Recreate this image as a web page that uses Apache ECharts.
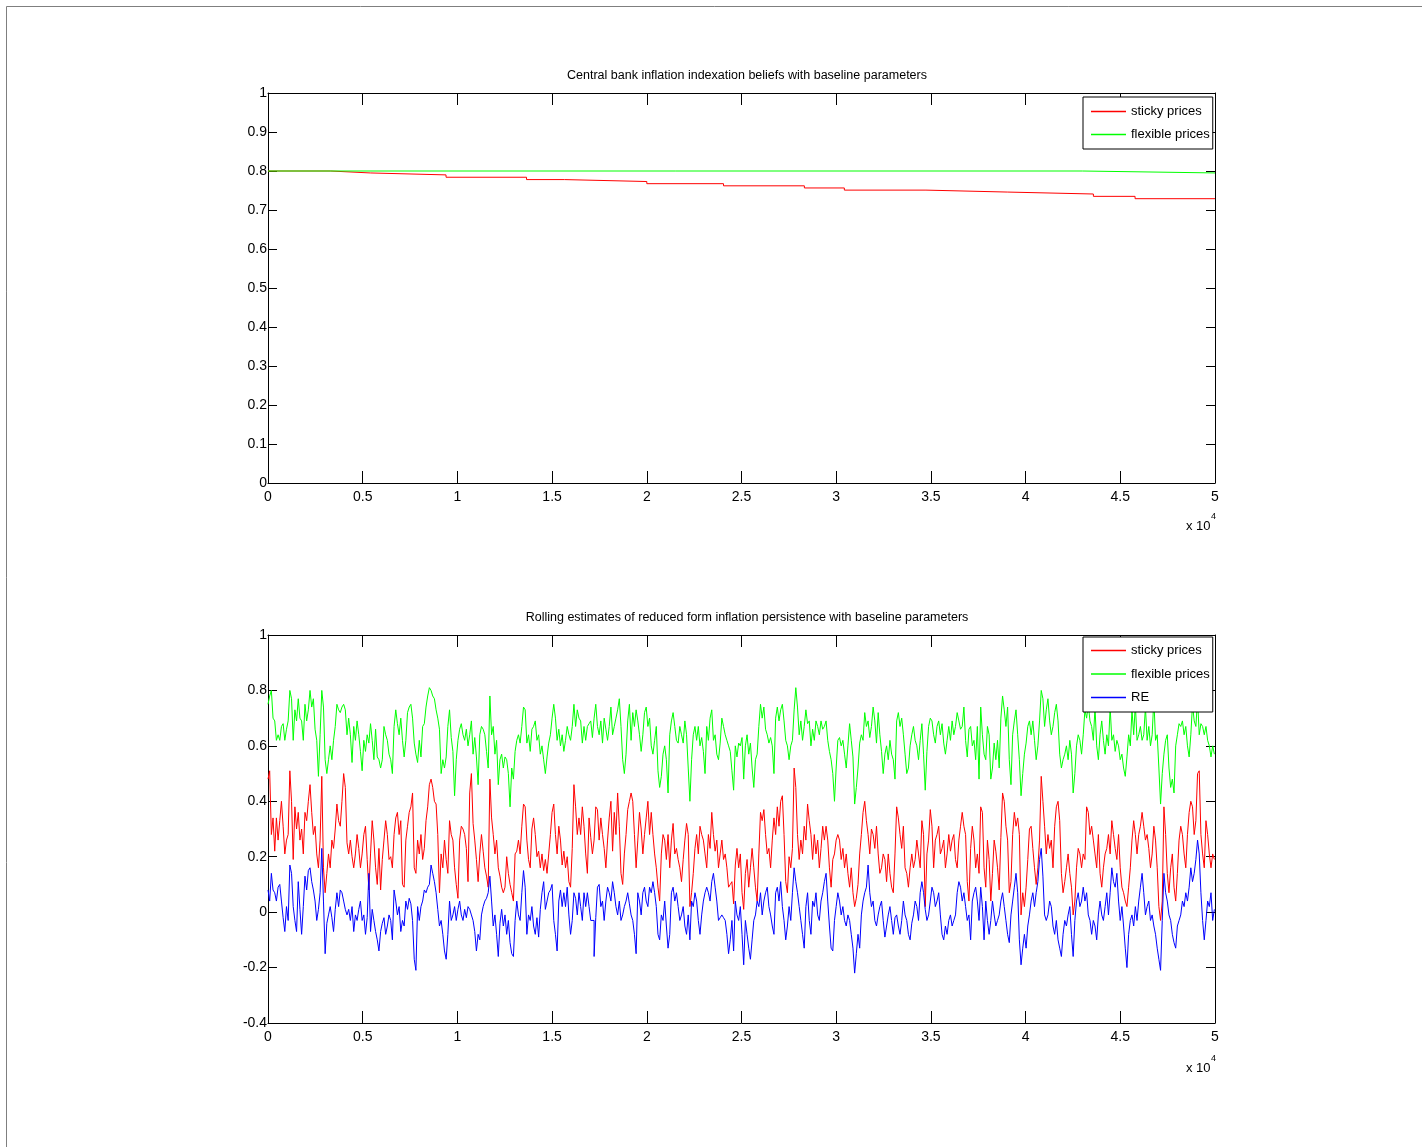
<!DOCTYPE html>
<html>
<head>
<meta charset="utf-8">
<script src="https://cdn.jsdelivr.net/npm/echarts@6/dist/echarts.min.js"></script>
<style>
html,body{margin:0;padding:0;background:#fff;}
#chart{width:1422px;height:1147px;}
</style>
</head>
<body>
<div id="chart"></div>
<script>
// ---------- Top panel: central bank indexation beliefs (step series) ----------
const beliefStickyX = [0, 3300, 5400, 9400, 13650, 15650, 20000, 24050, 28320, 30430, 34740, 39030, 43580, 45780, 50000];
const beliefStickyY = [0.800, 0.795, 0.790, 0.784, 0.778, 0.773, 0.7675, 0.762, 0.7565, 0.751, 0.746, 0.741, 0.735, 0.729, 0.729];
const beliefFlexX = [0, 43000, 50000];
const beliefFlexY = [0.800, 0.795, 0.795];

// ---------- Bottom panel: rolling persistence estimates (read every ~89 periods) ----------
const SAMPLE_STEP = 88.75;
const persistSticky = [
  // 0 - 11.7k
  0.48,0.51,0.28,0.34,0.22,0.34,0.26,0.33,0.40,0.31, 0.21,0.26,0.28,0.51,0.40,0.19,0.38,0.30,0.36,0.26,
  0.30,0.21,0.36,0.33,0.40,0.46,0.36,0.28,0.31,0.21, 0.16,0.26,0.49,0.16,0.07,0.14,0.21,0.16,0.26,0.23,
  0.30,0.39,0.33,0.31,0.40,0.50,0.45,0.25,0.21,0.26, 0.20,0.16,0.21,0.28,0.23,0.16,0.21,0.28,0.31,0.19,
  0.08,0.21,0.33,0.26,0.16,0.10,0.23,0.08,0.19,0.26, 0.33,0.28,0.19,0.20,0.16,0.28,0.34,0.36,0.28,0.33,
  0.10,0.09,0.26,0.31,0.36,0.38,0.43,0.16,0.14,0.26, 0.21,0.28,0.19,0.23,0.33,0.38,0.46,0.48,0.45,0.40,
  0.39,0.28,0.07,0.21,0.16,0.26,0.19,0.14,0.33,0.28, 0.26,0.16,0.10,0.05,0.26,0.31,0.30,0.28,0.23,0.11,
  0.43,0.50,0.32,0.26,0.19,0.11,0.21,0.28,0.22,0.16, 0.13,0.09,0.48,
  // 11.8k - 24.6k
  0.34,0.28,0.21,0.26,0.16,0.13,0.09,0.07,0.09,0.20, 0.14,0.10,0.07,0.04,0.21,0.22,0.26,0.21,0.31,0.39,
  0.38,0.26,0.19,0.16,0.30,0.34,0.28,0.20,0.22,0.16, 0.21,0.15,0.19,0.14,0.21,0.28,0.36,0.39,0.28,0.21,
  0.31,0.26,0.17,0.22,0.16,0.20,0.11,0.09,0.23,0.46, 0.38,0.28,0.34,0.28,0.38,0.31,0.21,0.14,0.34,0.27,
  0.21,0.26,0.38,0.37,0.26,0.34,0.28,0.23,0.16,0.26, 0.34,0.40,0.22,0.36,0.28,0.43,0.31,0.14,0.10,0.21,
  0.28,0.37,0.40,0.43,0.40,0.28,0.16,0.26,0.36,0.30, 0.21,0.28,0.34,0.40,0.28,0.36,0.28,0.21,0.16,0.09,
  0.04,0.21,0.28,0.26,0.19,0.28,0.16,0.26,0.32,0.21, 0.23,0.19,0.16,0.11,0.19,0.26,0.32,0.28,0.02,0.07,
  0.14,0.23,0.28,0.21,0.31,0.28,0.26,0.21,0.16,0.28, 0.23,0.36,0.28,0.22,0.26,0.16,0.21,0.26,0.19,0.21,
  0.16,0.09,0.10,0.11,0.03,
  // 24.7k - 37.6k
  0.17,0.23,0.16,0.21,0.07,0.01,0.14,0.19,0.09,0.16, 0.23,0.16,0.09,0.04,0.21,0.36,0.33,0.37,0.28,0.21,
  0.23,0.16,0.26,0.34,0.28,0.38,0.31,0.40,0.42,0.28, 0.11,0.07,0.20,0.16,0.23,0.52,0.45,0.28,0.19,0.26,
  0.21,0.31,0.26,0.39,0.33,0.28,0.19,0.28,0.21,0.26, 0.16,0.23,0.31,0.26,0.31,0.26,0.16,0.09,0.19,0.21,
  0.26,0.28,0.26,0.19,0.23,0.16,0.21,0.14,0.09,0.16, 0.07,0.02,0.05,0.10,0.21,0.28,0.36,0.40,0.33,0.28,
  0.21,0.30,0.28,0.23,0.31,0.21,0.14,0.16,0.21,0.19, 0.11,0.21,0.14,0.09,0.07,0.21,0.38,0.34,0.28,0.23,
  0.31,0.16,0.14,0.09,0.16,0.21,0.16,0.19,0.26,0.21, 0.16,0.33,0.28,0.02,0.21,0.26,0.37,0.31,0.16,0.26,
  0.28,0.31,0.21,0.23,0.26,0.16,0.21,0.28,0.22,0.26, 0.28,0.19,0.16,0.26,0.31,0.36,0.31,0.28,0.11,0.04,
  0.23,0.31,0.26,0.16,0.21,0.14,0.38,
  // 37.7k - 50k
  0.36,0.16,0.09,0.26,0.19,0.04,0.14,0.26,0.22,0.16, 0.08,0.27,0.43,0.40,0.31,0.26,0.07,0.11,0.28,0.36,
  0.31,0.34,0.28,-0.01,0.07,0.02,0.09,0.19,0.30,0.31, 0.23,0.16,0.10,0.16,0.26,0.49,0.40,0.31,0.21,0.28,
  0.23,0.26,0.16,0.31,0.38,0.40,0.33,0.14,0.07,0.11, 0.16,0.21,0.14,0.09,-0.01,0.04,0.16,0.23,0.21,0.16,
  0.21,0.19,0.38,0.36,0.28,0.31,0.26,0.21,0.16,0.28, 0.14,0.09,0.16,0.21,0.23,0.28,0.21,0.33,0.28,0.23,
  0.19,0.28,0.16,0.09,0.07,0.04,0.02,0.09,0.16,0.26, 0.33,0.28,0.21,0.28,0.31,0.36,0.31,0.26,0.28,0.23,
  0.16,0.21,0.31,0.26,0.16,0.02,-0.03,0.04,0.38,0.28, 0.14,0.07,0.16,0.21,0.09,0.04,0.14,0.26,0.31,0.28,
  0.21,0.16,0.28,0.36,0.40,0.38,0.28,0.33,0.50,0.51, 0.28,0.21,0.16,0.33,0.28,0.21,0.16,0.21,0.19
];
const persistFlexible = [
  0.75,0.78,0.80,0.70,0.69,0.62,0.64,0.62,0.67,0.68, 0.62,0.66,0.69,0.80,0.77,0.62,0.73,0.69,0.77,0.70,
  0.69,0.62,0.75,0.69,0.73,0.80,0.74,0.77,0.66,0.62, 0.49,0.64,0.80,0.74,0.55,0.50,0.55,0.60,0.55,0.62,
  0.67,0.75,0.73,0.72,0.74,0.75,0.73,0.64,0.70,0.64, 0.54,0.67,0.62,0.69,0.64,0.58,0.51,0.62,0.58,0.64,
  0.61,0.68,0.62,0.55,0.66,0.56,0.55,0.52,0.55,0.67, 0.64,0.62,0.57,0.55,0.50,0.67,0.73,0.68,0.64,0.70,
  0.62,0.56,0.62,0.72,0.74,0.75,0.70,0.61,0.57,0.54, 0.62,0.56,0.67,0.68,0.74,0.78,0.81,0.80,0.78,0.77,
  0.73,0.70,0.66,0.50,0.55,0.52,0.56,0.67,0.73,0.63, 0.58,0.42,0.55,0.62,0.66,0.68,0.64,0.62,0.66,0.60,
  0.64,0.69,0.57,0.63,0.56,0.46,0.64,0.67,0.66,0.64, 0.58,0.52,0.78,

  0.64,0.67,0.57,0.62,0.46,0.55,0.57,0.52,0.56,0.55, 0.50,0.38,0.52,0.48,0.58,0.62,0.64,0.61,0.67,0.74,
  0.73,0.61,0.64,0.58,0.66,0.67,0.69,0.62,0.64,0.57, 0.60,0.55,0.50,0.56,0.61,0.64,0.70,0.75,0.70,0.62,
  0.66,0.60,0.64,0.58,0.62,0.67,0.64,0.62,0.67,0.75, 0.67,0.73,0.70,0.69,0.61,0.67,0.62,0.67,0.68,0.69,
  0.63,0.70,0.75,0.67,0.64,0.69,0.61,0.70,0.66,0.62, 0.67,0.74,0.64,0.67,0.70,0.73,0.77,0.67,0.55,0.50,
  0.57,0.69,0.75,0.62,0.72,0.67,0.73,0.69,0.64,0.58, 0.64,0.72,0.74,0.67,0.70,0.60,0.57,0.62,0.67,0.51,
  0.45,0.49,0.57,0.60,0.55,0.43,0.64,0.69,0.72,0.67, 0.62,0.61,0.67,0.64,0.61,0.69,0.64,0.52,0.40,0.55,
  0.64,0.67,0.62,0.67,0.60,0.63,0.58,0.50,0.67,0.62, 0.70,0.73,0.62,0.64,0.57,0.55,0.61,0.70,0.67,0.64,
  0.62,0.60,0.58,0.51,0.44,

  0.60,0.56,0.61,0.60,0.63,0.48,0.60,0.64,0.57,0.61, 0.52,0.45,0.55,0.57,0.67,0.75,0.70,0.74,0.66,0.64,
  0.61,0.63,0.60,0.50,0.70,0.74,0.69,0.73,0.75,0.69, 0.62,0.60,0.55,0.60,0.62,0.73,0.81,0.74,0.64,0.69,
  0.62,0.67,0.73,0.68,0.69,0.60,0.66,0.62,0.69,0.67, 0.64,0.69,0.66,0.67,0.69,0.62,0.58,0.55,0.50,0.40,
  0.52,0.62,0.63,0.60,0.62,0.57,0.52,0.60,0.68,0.62, 0.56,0.39,0.45,0.52,0.61,0.64,0.62,0.72,0.67,0.69,
  0.63,0.67,0.74,0.69,0.61,0.72,0.64,0.58,0.50,0.57, 0.60,0.55,0.62,0.57,0.55,0.48,0.69,0.72,0.67,0.70,
  0.64,0.57,0.50,0.52,0.60,0.64,0.67,0.62,0.60,0.55, 0.62,0.68,0.57,0.44,0.58,0.67,0.70,0.69,0.64,0.61,
  0.67,0.69,0.64,0.68,0.61,0.57,0.62,0.67,0.62,0.69, 0.64,0.67,0.72,0.69,0.66,0.67,0.74,0.62,0.56,0.66,
  0.67,0.60,0.62,0.55,0.67,0.48,0.74,

  0.64,0.57,0.55,0.67,0.64,0.48,0.52,0.61,0.55,0.62, 0.52,0.70,0.78,0.73,0.67,0.74,0.55,0.46,0.64,0.69,
  0.73,0.64,0.55,0.42,0.50,0.57,0.61,0.67,0.69,0.64, 0.69,0.62,0.55,0.60,0.69,0.80,0.77,0.67,0.73,0.77,
  0.69,0.64,0.67,0.72,0.75,0.69,0.57,0.52,0.55,0.57, 0.60,0.55,0.62,0.57,0.43,0.50,0.60,0.64,0.62,0.57,
  0.64,0.73,0.70,0.75,0.69,0.67,0.62,0.74,0.60,0.55, 0.64,0.69,0.62,0.57,0.64,0.60,0.74,0.62,0.64,0.58,
  0.62,0.60,0.55,0.57,0.52,0.49,0.56,0.64,0.60,0.73, 0.64,0.75,0.62,0.64,0.67,0.62,0.64,0.74,0.62,0.67,
  0.60,0.64,0.77,0.62,0.64,0.52,0.39,0.50,0.57,0.62, 0.64,0.52,0.45,0.48,0.43,0.60,0.64,0.68,0.67,0.69,
  0.64,0.67,0.60,0.56,0.64,0.75,0.69,0.67,0.77,0.64, 0.68,0.67,0.64,0.67,0.62,0.60,0.56,0.60,0.57
];
const persistRE = [
  0.08,0.04,0.14,0.08,0.07,0.04,0.09,0.10,0.04,-0.02, -0.07,0.02,-0.03,0.17,0.14,0.02,-0.03,-0.07,0.11,0.01,
  -0.08,0.02,0.13,0.08,0.15,0.16,0.11,0.08,0.04,-0.03, 0.01,0.07,0.23,0.04,-0.15,-0.04,-0.01,0.02,-0.02,-0.07,
  0.01,0.07,0.02,0.08,0.07,0.04,0.01,-0.01,0.01,-0.03, 0.02,-0.07,-0.01,-0.03,0.01,0.04,-0.03,-0.01,-0.08,-0.02,
  0.14,-0.07,0.01,-0.03,-0.07,-0.10,-0.14,-0.07,-0.04,-0.02, -0.08,-0.05,-0.01,-0.03,-0.10,0.08,0.04,-0.01,0.02,-0.07,
  -0.03,-0.05,0.04,0.01,0.05,0.03,-0.03,-0.17,-0.21,0.02, -0.03,0.02,0.04,0.08,0.07,0.09,0.10,0.17,0.14,0.11,
  0.07,0.01,-0.05,-0.03,-0.08,-0.14,-0.17,-0.08,0.04,-0.03, -0.01,0.02,-0.03,0.01,0.04,-0.01,-0.03,0.01,-0.02,0.02,
  0.01,-0.01,-0.03,-0.07,-0.14,-0.08,-0.10,-0.01,0.02,0.04, 0.05,0.07,0.13,

  0.04,-0.05,-0.01,-0.08,-0.16,-0.04,0.01,-0.05,-0.01,-0.08, -0.03,-0.11,-0.15,-0.16,-0.03,0.04,-0.01,-0.03,0.07,0.15,
  0.09,-0.08,-0.01,-0.03,0.02,-0.05,-0.08,-0.02,-0.09,0.01, 0.07,0.11,0.01,0.04,0.07,0.08,0.10,-0.03,-0.08,-0.14,
  0.04,0.08,0.02,0.07,0.02,0.09,-0.01,-0.08,-0.03,0.07, 0.05,-0.01,0.07,0.02,-0.03,0.07,0.02,0.07,0.02,-0.03,
  -0.03,-0.16,-0.02,0.09,0.10,0.02,0.04,-0.03,0.04,0.09, 0.07,0.04,0.11,0.07,0.02,-0.01,0.04,-0.03,-0.01,0.02,
  0.04,0.07,0.03,-0.01,-0.03,-0.08,-0.15,0.07,0.04,-0.01, 0.07,0.09,0.04,0.02,0.09,0.07,0.11,0.07,0.02,-0.08,
  -0.10,-0.01,-0.03,0.04,-0.05,-0.13,-0.08,0.07,0.09,0.04, 0.07,0.02,-0.03,-0.01,0.02,-0.05,-0.08,-0.01,-0.10,0.04,
  0.02,0.07,0.04,-0.03,-0.08,-0.01,0.04,0.07,0.09,0.07, 0.04,0.11,0.14,0.09,0.04,-0.03,-0.02,-0.01,-0.02,-0.03,
  -0.08,-0.15,-0.10,-0.03,-0.14,

  0.04,-0.01,-0.03,0.02,-0.08,-0.19,-0.03,-0.08,-0.13,-0.17, -0.10,-0.03,-0.01,0.04,0.02,0.07,-0.01,0.04,0.07,0.09,
  0.02,-0.01,-0.05,-0.08,0.07,0.09,0.04,0.11,0.02,-0.03, -0.10,-0.05,0.02,-0.03,0.07,0.16,0.11,0.07,0.02,-0.03,
  -0.08,-0.13,0.02,0.07,-0.03,-0.08,0.04,0.02,0.07,-0.01, -0.03,0.04,0.07,0.11,0.14,0.04,-0.05,-0.13,-0.14,-0.03,
  0.02,0.07,0.04,-0.01,0.02,-0.03,-0.05,-0.01,-0.03,-0.08, -0.13,-0.22,-0.15,-0.08,-0.13,-0.01,0.04,0.07,0.09,0.17,
  0.07,0.02,0.04,-0.03,-0.05,-0.01,0.02,0.04,-0.03,-0.09, -0.05,-0.01,0.02,-0.03,-0.08,-0.02,-0.01,-0.05,-0.08,-0.03,
  0.04,-0.01,-0.03,-0.08,-0.10,-0.04,-0.01,0.04,0.02,-0.03, 0.07,0.11,0.07,0.01,-0.03,-0.01,0.04,0.09,0.07,0.02,
  0.04,0.07,-0.01,-0.08,-0.10,-0.05,-0.08,-0.03,-0.01,-0.05, -0.03,-0.01,0.07,0.11,0.09,0.04,0.07,0.02,-0.03,-0.01,
  -0.10,0.04,0.07,0.09,0.04,-0.03,0.09,

  0.02,-0.10,0.04,-0.03,-0.08,-0.03,0.04,-0.01,-0.05,-0.03, -0.01,0.04,0.07,0.02,-0.03,-0.08,-0.11,-0.01,0.04,0.09,
  0.14,0.07,-0.10,-0.19,-0.13,-0.08,-0.13,-0.05,-0.01,0.04, 0.07,0.02,0.07,0.11,0.19,0.23,0.13,-0.01,-0.03,-0.01,
  0.04,0.02,-0.05,-0.08,-0.03,-0.10,-0.13,-0.16,-0.08,-0.03, -0.05,-0.01,0.02,-0.08,-0.16,-0.03,0.04,0.07,0.02,0.04,
  0.09,0.04,0.07,-0.01,-0.03,-0.08,-0.03,-0.05,-0.10,-0.01, 0.04,-0.01,-0.03,0.02,0.07,-0.01,0.07,0.16,0.11,0.09,
  0.14,0.04,-0.03,0.02,-0.05,-0.13,-0.20,-0.08,-0.03,-0.01, -0.05,0.02,-0.03,0.04,0.09,0.14,0.07,-0.01,0.02,0.04,
  -0.03,-0.01,-0.05,-0.08,-0.13,-0.17,-0.21,-0.03,0.14,0.07, 0.04,-0.01,-0.03,-0.08,-0.11,-0.13,-0.05,-0.03,-0.01,0.04,
  0.02,0.07,0.04,0.09,0.16,0.11,0.14,0.19,0.26,0.21, 0.07,-0.03,-0.10,-0.03,0.04,0.02,0.07,-0.03,0.01
];

const titleTop = 'Central bank inflation indexation beliefs with baseline parameters';
const titleBottom = 'Rolling estimates of reduced form inflation persistence with baseline parameters';
const seriesNames = ['sticky prices', 'flexible prices', 'RE'];
const seriesColors = ['#ff0000', '#00ff00', '#0000ff'];

const FONT = "'Liberation Sans', Arial, Helvetica, sans-serif";

function pairs(xs, ys) { return xs.map((x, i) => [x, ys[i]]); }
function sampled(ys) { return ys.map((y, i) => [i * SAMPLE_STEP, y]); }
function fmtY(v) { return String(Math.round(v * 10) / 10); }
function fmtX(v) { return String(Math.round(v / 1000) / 10); }

const chart = echarts.init(document.getElementById('chart'), null, { renderer: 'canvas' });

function xAxes(grid) {
  const common = {
    gridIndex: grid, type: 'value', min: 0, max: 50000, interval: 5000,
    splitLine: { show: false },
    axisLine: { show: true, onZero: false, lineStyle: { color: '#000', width: 1 } },
    axisTick: { show: true, inside: true, length: 12, lineStyle: { color: '#000' } }
  };
  return [
    Object.assign({}, common, {
      position: 'bottom',
      axisLabel: { show: true, formatter: fmtX, color: '#000', fontSize: 14, fontFamily: FONT, margin: 7,
        showMinLabel: true, showMaxLabel: true }
    }),
    Object.assign({}, common, { position: 'top', axisLabel: { show: false } })
  ];
}
function yAxes(grid, min, max, interval) {
  const common = {
    gridIndex: grid, type: 'value', min: min, max: max, interval: interval,
    splitLine: { show: false },
    axisLine: { show: true, onZero: false, lineStyle: { color: '#000', width: 1 } },
    axisTick: { show: true, inside: true, length: 9, lineStyle: { color: '#000' } }
  };
  return [
    Object.assign({}, common, {
      position: 'left',
      axisLabel: { show: true, formatter: fmtY, color: '#000', fontSize: 14, fontFamily: FONT, margin: 1,
        showMinLabel: true, showMaxLabel: true }
    }),
    Object.assign({}, common, { position: 'right', axisLabel: { show: false } })
  ];
}

function lineSeries(name, color, xi, yi, data) {
  return {
    name: name, type: 'line', xAxisIndex: xi, yAxisIndex: yi, data: data,
    step: 'end', symbol: 'none', showSymbol: false, animation: false,
    lineStyle: { color: color, width: 1 }, itemStyle: { color: color }
  };
}

const legendCommon = {
  orient: 'vertical', left: 1083,
  icon: 'rect', itemWidth: 35, itemHeight: 1.5,
  backgroundColor: '#fff', borderColor: '#000', borderWidth: 1, borderRadius: 0,
  textStyle: { color: '#000', fontSize: 13, fontFamily: FONT },
  selectedMode: false
};

const option = {
  animation: false,
  backgroundColor: '#fff',
  textStyle: { fontFamily: FONT },
  title: [
    { text: titleTop, left: 742, top: 64, textAlign: 'center',
      textStyle: { fontSize: 12.5, fontWeight: 'normal', color: '#000', fontFamily: FONT } },
    { text: titleBottom, left: 742, top: 606, textAlign: 'center',
      textStyle: { fontSize: 12.5, fontWeight: 'normal', color: '#000', fontFamily: FONT } }
  ],
  grid: [
    { left: 268, top: 93, width: 947, height: 390 },
    { left: 268, top: 635, width: 947, height: 388 }
  ],
  xAxis: xAxes(0).concat(xAxes(1)),
  yAxis: yAxes(0, 0, 1, 0.1).concat(yAxes(1, -0.4, 1, 0.2)),
  legend: [
    Object.assign({}, legendCommon, { top: 97, padding: [8, 3, 8, 8], itemGap: 10,
      data: [seriesNames[0], seriesNames[1]] }),
    Object.assign({}, legendCommon, { top: 637, padding: [7, 3, 8, 8], itemGap: 10.5,
      data: [seriesNames[0], seriesNames[1], seriesNames[2]] })
  ],
  series: [
    lineSeries(seriesNames[0], seriesColors[0], 0, 0, pairs(beliefStickyX, beliefStickyY)),
    lineSeries(seriesNames[1], seriesColors[1], 0, 0, pairs(beliefFlexX, beliefFlexY)),
    lineSeries(seriesNames[0], seriesColors[0], 2, 2, sampled(persistSticky)),
    lineSeries(seriesNames[1], seriesColors[1], 2, 2, sampled(persistFlexible)),
    lineSeries(seriesNames[2], seriesColors[2], 2, 2, sampled(persistRE))
  ],
  graphic: [
    { type: 'rect', shape: { x: 6.5, y: 6.5, width: 1600, height: 1600 }, silent: true,
      style: { fill: 'none', stroke: '#7f7f7f', lineWidth: 1 } },
    { type: 'text', x: 1186, y: 520, silent: true,
      style: { text: 'x 10', fontSize: 13, fontFamily: FONT, fill: '#000' } },
    { type: 'text', x: 1211, y: 512, silent: true,
      style: { text: '4', fontSize: 9, fontFamily: FONT, fill: '#000' } },
    { type: 'text', x: 1186, y: 1062, silent: true,
      style: { text: 'x 10', fontSize: 13, fontFamily: FONT, fill: '#000' } },
    { type: 'text', x: 1211, y: 1054, silent: true,
      style: { text: '4', fontSize: 9, fontFamily: FONT, fill: '#000' } }
  ]
};

chart.setOption(option);
</script>
</body>
</html>
